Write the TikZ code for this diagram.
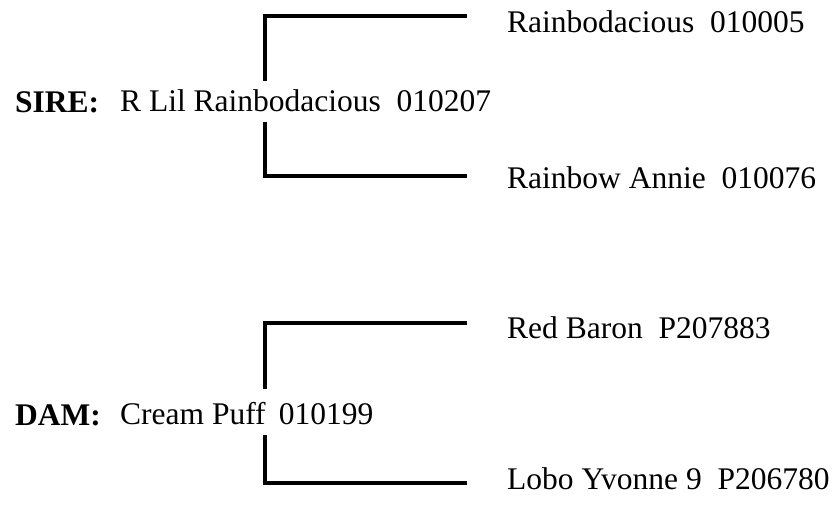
\documentclass[tikz,border=0pt]{standalone}
\usepackage{fontspec}
\setmainfont{Liberation Serif}
\begin{document}
\begin{tikzpicture}[x=1pt,y=-1pt,
  lbl/.style={anchor=base west,inner sep=0pt,font=\fontsize{31.5}{36}\selectfont},
  tag/.style={lbl,font=\fontsize{31.5}{36}\selectfont\bfseries},
  bracket/.style={line width=3.8pt,line cap=butt,line join=miter}]
\useasboundingbox (0,0) rectangle (835,504);
% SIRE
\node[tag] (sirelbl) at (15,112) {SIRE:};
\node[lbl,text height=30pt,text depth=11pt] (sire) at (120,111) {R Lil Rainbodacious\ \ 010207};
\node[lbl] (p1) at (507,32) {Rainbodacious\ \ 010005};
\node[lbl] (p2) at (507,188) {Rainbow Annie\ \ 010076};
\coordinate (p1e) at (467,16);
\coordinate (p2e) at (467,176);
\draw[bracket] (sire.north -| 265,0) -- (265,16) -- (p1e);
\draw[bracket] (sire.south -| 265,0) -- (265,176) -- (p2e);
% DAM
\node[tag] (damlbl) at (15,425) {DAM:};
\node[lbl,text height=35pt,text depth=11pt] (dam) at (120,424) {Cream Puff\ \,010199};
\node[lbl] (p3) at (507,338) {Red Baron\ \ P207883};
\node[lbl] (p4) at (507,489) {Lobo Yvonne 9\ \ P206780};
\coordinate (p3e) at (467,323);
\coordinate (p4e) at (467,483);
\draw[bracket] (dam.north -| 265,0) -- (265,323) -- (p3e);
\draw[bracket] (dam.south -| 265,0) -- (265,483) -- (p4e);
\end{tikzpicture}
\end{document}
